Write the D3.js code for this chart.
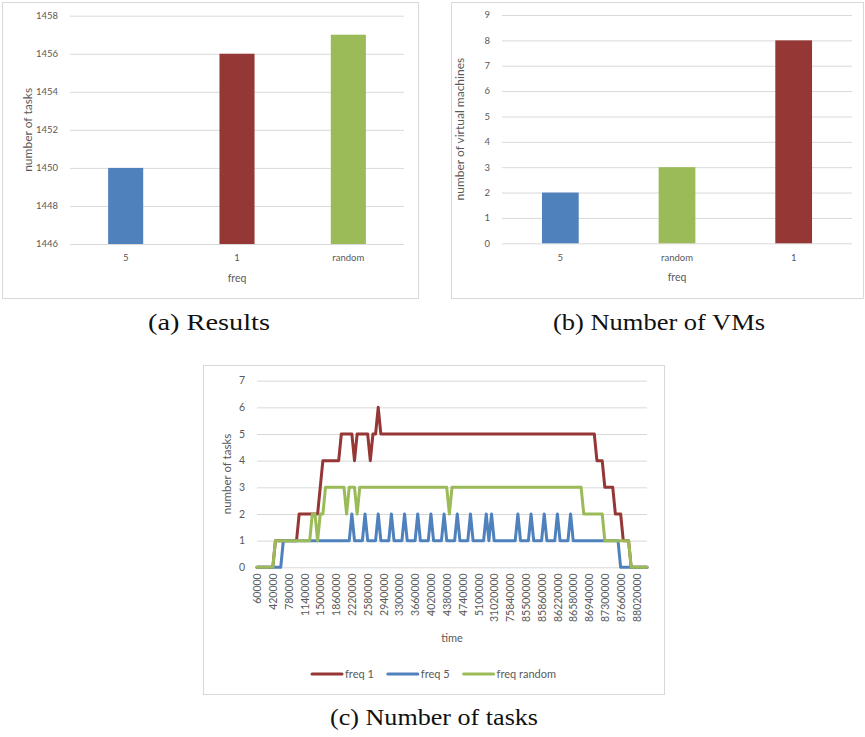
<!DOCTYPE html>
<html><head><meta charset="utf-8">
<script src="https://cdn.jsdelivr.net/npm/d3@7"></script>
<style>body{margin:0;background:#fff} svg{display:block}</style>
</head><body>
<svg id="chart" width="865" height="737"></svg>
<script>
// ---------- data ----------
const resultsCategories = ["5", "1", "random"];
const resultsValues = [1450, 1456, 1457];
const resultsTicks = [1446, 1448, 1450, 1452, 1454, 1456, 1458];

const vmCategories = ["5", "random", "1"];
const vmValues = [2, 3, 8];
const vmTicks = [0, 1, 2, 3, 4, 5, 6, 7, 8, 9];

const timeTickLabels = ["60000","420000","780000","1140000","1500000","1860000","2220000",
  "2580000","2940000","3300000","3660000","4020000","4380000","4740000","5100000",
  "31020000","75840000","85500000","85860000","86220000","86580000","86940000",
  "87300000","87660000","88020000"];
const taskTicks = [0, 1, 2, 3, 4, 5, 6, 7];

const freq1 = [
  0,0,0,0,0,0,0,1,1,1,
  1,1,1,1,1,1,2,2,2,2,
  2,2,2,2,3,4,4,4,4,4,
  4,4,5,5,5,5,5,4,5,5,
  5,5,5,4,5,5,6,5,5,5,
  5,5,5,5,5,5,5,5,5,5,
  5,5,5,5,5,5,5,5,5,5,
  5,5,5,5,5,5,5,5,5,5,
  5,5,5,5,5,5,5,5,5,5,
  5,5,5,5,5,5,5,5,5,5,
  5,5,5,5,5,5,5,5,5,5,
  5,5,5,5,5,5,5,5,5,5,
  5,5,5,5,5,5,5,5,5,4,
  4,4,3,3,3,3,2,2,2,1,
  1,1,0,0,0,0,0,0,0];
const freq5 = [
  0,0,0,0,0,0,0,0,0,0,
  1,1,1,1,1,1,1,1,1,1,
  1,1,1,1,1,1,1,1,1,1,
  1,1,1,1,1,1,2,1,1,1,
  1,2,1,1,1,1,2,1,1,1,
  1,2,1,1,1,1,2,1,1,1,
  1,2,1,1,1,1,2,1,1,1,
  1,2,1,1,1,1,2,1,1,1,
  1,2,1,1,1,1,1,2,1,2,
  1,1,1,1,1,1,1,1,1,2,
  1,1,1,1,2,1,1,1,1,2,
  1,1,1,1,2,1,1,1,1,2,
  1,1,1,1,1,1,1,1,1,1,
  1,1,1,1,1,1,1,1,0,0,
  0,0,0,0,0,0,0,0,0];
const freqRandom = [
  0,0,0,0,0,0,0,1,1,1,
  1,1,1,1,1,1,1,1,1,1,
  1,2,2,1,2,2,3,3,3,3,
  3,3,3,3,2,3,3,3,2,3,
  3,3,3,3,3,3,3,3,3,3,
  3,3,3,3,3,3,3,3,3,3,
  3,3,3,3,3,3,3,3,3,3,
  3,3,3,2,3,3,3,3,3,3,
  3,3,3,3,3,3,3,3,3,3,
  3,3,3,3,3,3,3,3,3,3,
  3,3,3,3,3,3,3,3,3,3,
  3,3,3,3,3,3,3,3,3,3,
  3,3,3,3,2,2,2,2,2,2,
  2,2,1,1,1,1,1,1,1,1,
  1,1,0,0,0,0,0,0,0];
const seriesNames = ["freq 1", "freq 5", "freq random"];

// ---------- styles ----------
const colorByFreq = {"1": "#953735", "5": "#4f81bd", "random": "#9bbb59"};
const lineColors = ["#953735", "#4f81bd", "#9bbb59"];
const gridColor = "#d9d9d9";
const textColor = "#595959";
const sansFont = "Lato, 'Open Sans', sans-serif";
const serifFont = "'Liberation Serif', 'DejaVu Serif', serif";

const svg = d3.select("#chart");

function barPanel(box, plot, cats, vals, ticks, yTitle) {
  svg.append("rect").attr("x", box.x).attr("y", box.y).attr("width", box.w).attr("height", box.h)
    .attr("fill", "#fff").attr("stroke", gridColor).attr("stroke-width", 1);
  const x = d3.scaleBand().domain(cats).range([plot.l, plot.r]).paddingInner(0.685).paddingOuter(0.3425);
  const y = d3.scaleLinear().domain([ticks[0], ticks[ticks.length - 1]]).range([plot.b, plot.t]);
  const g = svg.append("g");
  g.selectAll("line.grid").data(ticks).join("line").attr("class", "grid")
    .attr("x1", plot.l).attr("x2", plot.r).attr("y1", d => y(d) + 0.5).attr("y2", d => y(d) + 0.5)
    .attr("stroke", gridColor).attr("stroke-width", 1);
  g.selectAll("text.yt").data(ticks).join("text").attr("class", "yt")
    .attr("x", plot.l - 12).attr("y", d => y(d)).attr("dy", "0.35em").attr("text-anchor", "end")
    .attr("font-family", sansFont).attr("font-size", 9.5).attr("fill", textColor).text(d => d);
  g.selectAll("rect.bar").data(cats).join("rect").attr("class", "bar")
    .attr("x", d => x(d)).attr("width", x.bandwidth())
    .attr("y", (d, i) => y(vals[i])).attr("height", (d, i) => plot.b - y(vals[i]))
    .attr("fill", d => colorByFreq[d]);
  g.selectAll("text.xt").data(cats).join("text").attr("class", "xt")
    .attr("x", d => x(d) + x.bandwidth() / 2).attr("y", plot.b + 14).attr("dy", "0.35em")
    .attr("text-anchor", "middle").attr("font-family", sansFont).attr("font-size", 9.5)
    .attr("fill", textColor).text(d => d);
  g.append("text").attr("x", (plot.l + plot.r) / 2).attr("y", plot.b + 34).attr("dy", "0.35em")
    .attr("text-anchor", "middle").attr("font-family", sansFont).attr("font-size", 10.5)
    .attr("fill", textColor).text("freq");
  g.append("text").attr("transform", `translate(${plot.l - 42},${(plot.t + plot.b) / 2}) rotate(-90)`)
    .attr("dy", "0.35em").attr("text-anchor", "middle").attr("font-family", sansFont)
    .attr("font-size", 12).attr("fill", textColor).text(yTitle);
}

barPanel({x: 2.5, y: 2.5, w: 416, h: 296}, {l: 70, r: 404, t: 15.7, b: 244},
  resultsCategories, resultsValues, resultsTicks, "number of tasks");
barPanel({x: 451.5, y: 2.5, w: 412, h: 296}, {l: 502, r: 852, t: 15, b: 243.3},
  vmCategories, vmValues, vmTicks, "number of virtual machines");

// ---------- panel c ----------
(function () {
  const box = {x: 203.5, y: 365.5, w: 461, h: 329};
  const plot = {l: 257, r: 647, t: 380.7, b: 567.3};
  svg.append("rect").attr("x", box.x).attr("y", box.y).attr("width", box.w).attr("height", box.h)
    .attr("fill", "#fff").attr("stroke", gridColor).attr("stroke-width", 1);
  const idx = d3.range(freq1.length);
  const x = d3.scalePoint().domain(idx).range([plot.l, plot.r]);
  const y = d3.scaleLinear().domain([0, 7]).range([plot.b, plot.t]);
  const g = svg.append("g");
  g.selectAll("line.grid").data(taskTicks).join("line")
    .attr("x1", plot.l).attr("x2", plot.r).attr("y1", d => y(d) + 0.5).attr("y2", d => y(d) + 0.5)
    .attr("stroke", gridColor).attr("stroke-width", 1);
  g.selectAll("text.yt").data(taskTicks).join("text").attr("class", "yt")
    .attr("x", plot.l - 12).attr("y", d => y(d)).attr("dy", "0.35em").attr("text-anchor", "end")
    .attr("font-family", sansFont).attr("font-size", 10.5).attr("fill", textColor).text(d => d);
  const tickIdx = timeTickLabels.map((_, i) => idx[i * 6]);
  const ax = g.append("g").attr("transform", `translate(0,${plot.b})`)
    .call(d3.axisBottom(x).tickValues(tickIdx).tickFormat((d, i) => timeTickLabels[i]).tickSize(0));
  ax.select(".domain").remove();
  ax.selectAll("text").attr("transform", "rotate(-90)").attr("text-anchor", "end")
    .attr("x", -6).attr("y", 0).attr("dy", "0.35em")
    .attr("font-family", sansFont).attr("font-size", 10.5).attr("fill", textColor);
  g.append("text").attr("x", (plot.l + plot.r) / 2).attr("y", 638).attr("dy", "0.35em")
    .attr("text-anchor", "middle").attr("font-family", sansFont).attr("font-size", 11)
    .attr("fill", textColor).text("time");
  g.append("text").attr("transform", `translate(${plot.l - 30},${(plot.t + plot.b) / 2}) rotate(-90)`)
    .attr("dy", "0.35em").attr("text-anchor", "middle").attr("font-family", sansFont)
    .attr("font-size", 11.5).attr("fill", textColor).text("number of tasks");
  const line = d3.line().x((d, i) => x(idx[i])).y(d => y(d));
  [freq1, freq5, freqRandom].forEach((s, k) => {
    g.append("path").datum(s).attr("d", line).attr("fill", "none")
      .attr("stroke", lineColors[k]).attr("stroke-width", 3)
      .attr("stroke-linejoin", "round").attr("stroke-linecap", "round");
  });
  const lg = g.append("g");
  let cx = 0;
  seriesNames.forEach((n, k) => {
    const it = lg.append("g").attr("transform", `translate(${cx},0)`);
    it.append("line").attr("x1", 0).attr("x2", 30).attr("y1", 0).attr("y2", 0)
      .attr("stroke", lineColors[k]).attr("stroke-width", 3).attr("stroke-linecap", "round");
    const t = it.append("text").attr("x", 33).attr("y", 0).attr("dy", "0.35em")
      .attr("font-family", sansFont).attr("font-size", 11).attr("fill", textColor).text(n);
    cx += 33 + t.node().getComputedTextLength() + 14;
  });
  const lw = cx - 14;
  lg.attr("transform", `translate(${box.x + box.w / 2 - lw / 2},674)`);
})();

// ---------- captions ----------
const captions = [
  {t: "(a) Results", x: 209, y: 330, w: 122},
  {t: "(b) Number of VMs", x: 659, y: 330, w: 212},
  {t: "(c) Number of tasks", x: 434, y: 725, w: 208}
];
svg.selectAll("text.cap").data(captions).join("text").attr("class", "cap")
  .attr("x", d => d.x).attr("y", d => d.y).attr("text-anchor", "middle")
  .attr("font-family", serifFont).attr("font-size", 23).attr("fill", "#111")
  .attr("textLength", d => d.w).attr("lengthAdjust", "spacingAndGlyphs").text(d => d.t);
</script>
</body></html>
